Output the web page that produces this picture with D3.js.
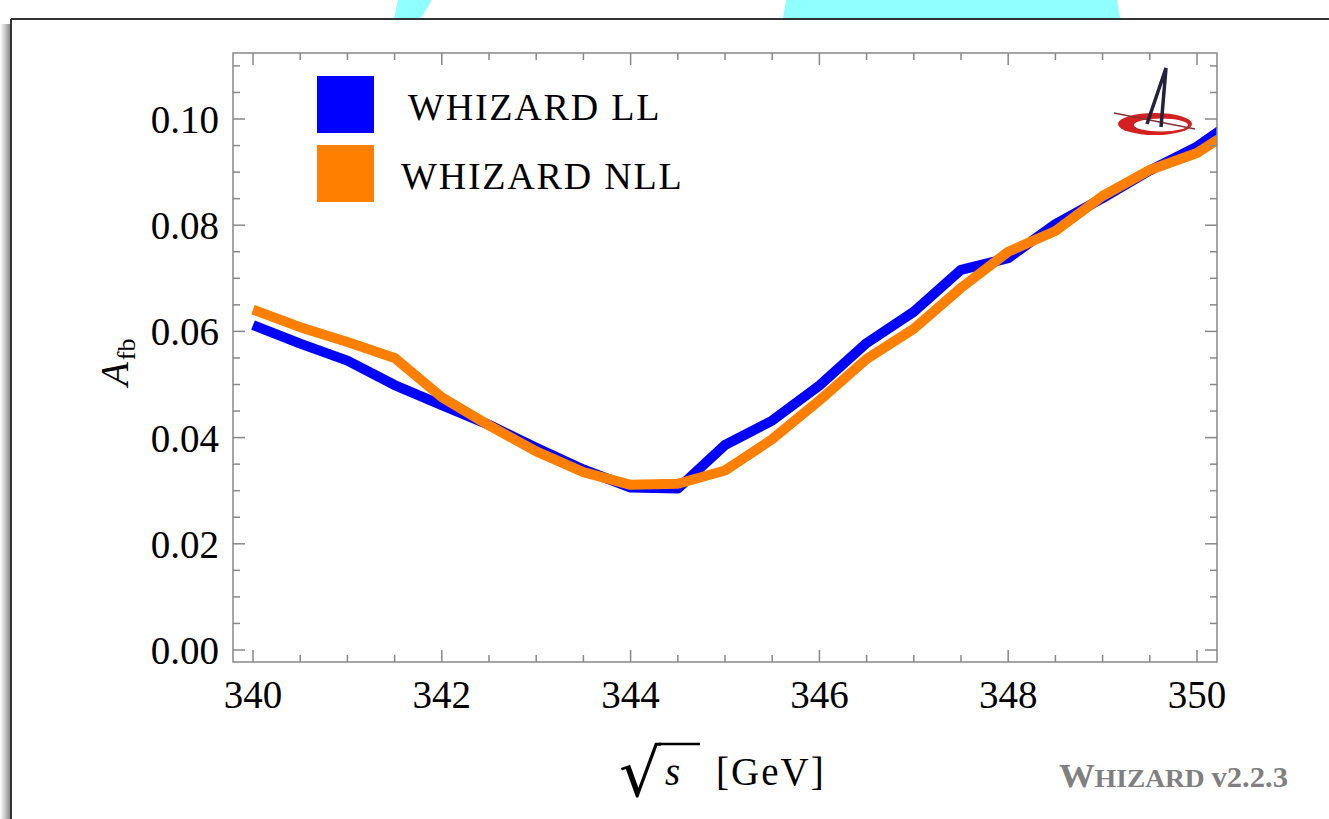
<!DOCTYPE html>
<html>
<head>
<meta charset="utf-8">
<script src="https://cdn.jsdelivr.net/npm/d3@7"></script>
<style>
  html, body { margin: 0; padding: 0; background: #ffffff; }
  svg { display: block; }
  .tick_label { font-family: "Liberation Serif", "Times New Roman", serif; font-size: 39px; fill: #000; }
  .legend_label { font-family: "Liberation Serif", "Times New Roman", serif; font-size: 38px; letter-spacing: 1.8px; fill: #000; }
</style>
</head>
<body>
<div class="graph_container"></div>
<script>
// data
const energies = [340, 340.5, 341, 341.5, 342, 342.5, 343, 343.5, 344, 344.5, 345, 345.5, 346, 346.5, 347, 347.5, 348, 348.5, 349, 349.5, 350, 350.5];
const afbLL = [0.0612, 0.0577, 0.0545, 0.0499, 0.0461, 0.0424, 0.0381, 0.0340, 0.0306, 0.0304, 0.0386, 0.0432, 0.0498, 0.0578, 0.0637, 0.0716, 0.0738, 0.0802, 0.0851, 0.0903, 0.0948, 0.1010];
const afbNLL = [0.0641, 0.0608, 0.0580, 0.0550, 0.0476, 0.0423, 0.0374, 0.0335, 0.0311, 0.0313, 0.0338, 0.0397, 0.0470, 0.0548, 0.0605, 0.0682, 0.0750, 0.0789, 0.0855, 0.0904, 0.0936, 0.0993];
const seriesNames = ["WHIZARD LL", "WHIZARD NLL"];
const seriesColors = ["#0000ff", "#ff8000"];
const xTickLabels = [340, 342, 344, 346, 348, 350];
const yTickLabels = [0.00, 0.02, 0.04, 0.06, 0.08, 0.10];

const W = 1329, H = 819;
const plotLeft = 233, plotRight = 1217, plotTop = 53, plotBottom = 662;

const svg = d3.select(".graph_container").append("svg").attr("width", W).attr("height", H);

//^ PAGE BACKGROUND (slide frame) //
const defs = svg.append("defs");
const shadow = defs.append("linearGradient").attr("id", "shadow").attr("x1", 0).attr("x2", 1).attr("y1", 0).attr("y2", 0);
shadow.append("stop").attr("offset", 0).attr("stop-color", "#ffffff");
shadow.append("stop").attr("offset", 0.5).attr("stop-color", "#c8c8c8");
shadow.append("stop").attr("offset", 1).attr("stop-color", "#8a8a8a");

svg.append("path").attr("d", "M398,0 L432,0 L421,18 L394,18 Z").attr("fill", "#8fffff");
svg.append("path").attr("d", "M786,0 L1117,0 L1120,18 L783,18 Z").attr("fill", "#8fffff");
svg.append("rect").attr("x", 0).attr("y", 24).attr("width", 10).attr("height", H - 24).attr("fill", "url(#shadow)");
svg.append("rect").attr("x", 11).attr("y", 19).attr("width", W - 11).attr("height", H - 19).attr("fill", "#ffffff");
svg.append("line").attr("x1", 11).attr("x2", W).attr("y1", 19).attr("y2", 19).attr("stroke", "#333").attr("stroke-width", 2);
svg.append("line").attr("x1", 11).attr("x2", 11).attr("y1", 19).attr("y2", H).attr("stroke", "#333").attr("stroke-width", 2);

//^ SCALES //
const xScale = d3.scaleLinear().domain([339.788, 350.212]).range([plotLeft, plotRight]);
const yScale = d3.scaleLinear().domain([-0.00226, 0.11243]).range([plotBottom, plotTop]);

//^ CURVES //
defs.append("clipPath").attr("id", "plotclip").append("rect")
  .attr("x", plotLeft).attr("y", plotTop).attr("width", plotRight - plotLeft).attr("height", plotBottom - plotTop);

const line = d3.line().x((d) => xScale(d[0])).y((d) => yScale(d[1]));
const curves = svg.append("g").attr("clip-path", "url(#plotclip)");
[afbLL, afbNLL].forEach((vals, i) => {
  curves.append("path")
    .datum(energies.map((e, j) => [e, vals[j]]))
    .attr("d", line)
    .attr("fill", "none")
    .attr("stroke", seriesColors[i])
    .attr("stroke-width", 10)
    .attr("stroke-linejoin", "round");
});

//^ FRAME AND TICKS //
const frame = svg.append("g").attr("stroke", "#888").attr("stroke-width", 1.5);
frame.append("rect").attr("x", plotLeft).attr("y", plotTop).attr("width", plotRight - plotLeft).attr("height", plotBottom - plotTop).attr("fill", "none");

const xMinor = d3.range(0, 21).map((i) => 340 + i * 0.5);
xMinor.forEach((v) => {
  const len = (v % 2 === 0) ? 12 : 7;
  frame.append("line").attr("x1", xScale(v)).attr("x2", xScale(v)).attr("y1", plotBottom).attr("y2", plotBottom - len);
  frame.append("line").attr("x1", xScale(v)).attr("x2", xScale(v)).attr("y1", plotTop).attr("y2", plotTop + len);
});
const yMinor = d3.range(0, 23).map((i) => i * 0.005);
yMinor.forEach((v, i) => {
  const len = (i % 4 === 0) ? 12 : 7;
  frame.append("line").attr("x1", plotLeft).attr("x2", plotLeft + len).attr("y1", yScale(v)).attr("y2", yScale(v));
  frame.append("line").attr("x1", plotRight).attr("x2", plotRight - len).attr("y1", yScale(v)).attr("y2", yScale(v));
});

//^ TICK LABELS //
svg.append("g").selectAll("text").data(xTickLabels).join("text")
  .attr("class", "tick_label").attr("x", (d) => xScale(d)).attr("y", 708)
  .attr("text-anchor", "middle").text((d) => d);
svg.append("g").selectAll("text").data(yTickLabels).join("text")
  .attr("class", "tick_label").attr("x", 219).attr("y", (d) => yScale(d)).attr("dy", "0.36em")
  .attr("text-anchor", "end").text((d) => d.toFixed(2));

//^ AXIS TITLES //
const yTitle = svg.append("text").attr("class", "tick_label").attr("transform", "translate(128,386) rotate(-90)");
yTitle.append("tspan").attr("font-style", "italic").text("A");
yTitle.append("tspan").style("font-size", "26px").attr("dy", 7).attr("dx", 2).text("fb");

svg.append("text").attr("x", 619).attr("y", 796)
  .style("font-size", "66px").style("font-family", "DejaVu Serif").text("√");
svg.append("line").attr("x1", 659).attr("x2", 700).attr("y1", 744).attr("y2", 744).attr("stroke", "#000").attr("stroke-width", 2.5);
svg.append("text").attr("class", "tick_label").attr("x", 665).attr("y", 785).attr("font-style", "italic").text("s");
svg.append("text").attr("class", "tick_label").attr("x", 716).attr("y", 785).style("letter-spacing", "2px").text("[GeV]");

//^ LEGEND //
seriesNames.forEach((name, i) => {
  svg.append("rect").attr("x", 317).attr("y", 76 + i * 69).attr("width", 57).attr("height", 57).attr("fill", seriesColors[i]);
  svg.append("text").attr("class", "legend_label").attr("x", i === 0 ? 408 : 401).attr("y", 120 + i * 69).text(name);
});

//^ LOGO //
const logo = svg.append("g");
logo.append("ellipse").attr("cx", 1155).attr("cy", 124).attr("rx", 37).attr("ry", 11).attr("fill", "#d42020");
logo.append("ellipse").attr("cx", 1161).attr("cy", 125).attr("rx", 27).attr("ry", 6.5).attr("fill", "#ffffff");
logo.append("line").attr("x1", 1114).attr("y1", 113).attr("x2", 1195).attr("y2", 129).attr("stroke", "#8a3030").attr("stroke-width", 1.5);
logo.append("path").attr("d", "M1147,124 L1166,68 L1161,127").attr("fill", "none").attr("stroke", "#232340").attr("stroke-width", 3.5);

//^ VERSION STAMP //
const stamp = svg.append("text").attr("x", 1059).attr("y", 787).attr("fill", "#808080")
  .attr("font-family", "Liberation Serif").attr("font-weight", "bold")
  .attr("textLength", 229).attr("lengthAdjust", "spacingAndGlyphs");
stamp.append("tspan").style("font-size", "34px").text("W");
stamp.append("tspan").style("font-size", "26px").text("HIZARD ");
stamp.append("tspan").style("font-size", "29px").text("v2.2.3");
</script>
</body>
</html>
